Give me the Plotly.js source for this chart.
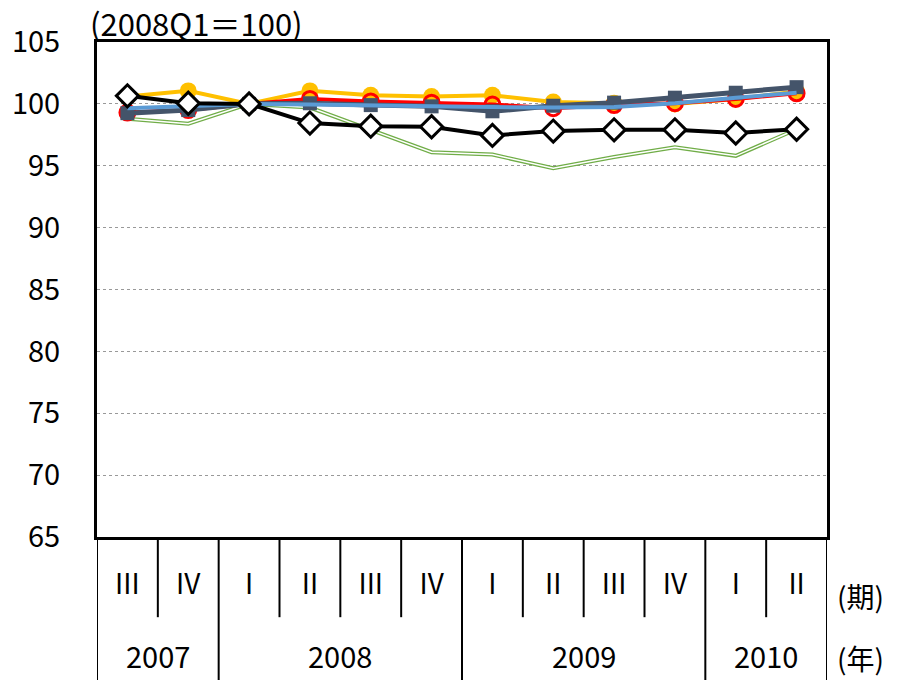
<!DOCTYPE html>
<html>
<head>
<meta charset="utf-8">
<script src="https://cdn.plot.ly/plotly-3.0.1.min.js"></script>
<style>body{margin:0;background:#fff}</style>
</head>
<body>
<div id="chart" style="width:901px;height:680px"></div>
<script>
var quarters = ['III', 'IV', 'I', 'II', 'III', 'IV', 'I', 'II', 'III', 'IV', 'I', 'II'];
var quarterIdx = [0, 1, 2, 3, 4, 5, 6, 7, 8, 9, 10, 11];
var yearLabels = ['2007', '2008', '2009', '2010'];
var yearSpans = [2, 4, 4, 2];

var serGreen = [98.8, 98.4, 100, 99.7, 97.9, 96.1, 95.9, 94.8, 95.7, 96.5, 95.8, 97.95];
var serOrange = [100.6, 101.05, 100, 101.05, 100.7, 100.6, 100.7, 100.15, 100.05, 100.0, 100.4, 101.0];
var serRed = [99.3, 99.5, 100, 100.4, 100.2, 100.1, 99.95, 99.65, 99.9, 100.05, 100.4, 100.85];
var serSlate = [99.25, 99.5, 100, 100.05, 99.9, 99.8, 99.4, 99.85, 100.1, 100.5, 100.9, 101.35];
var serBlue = [99.65, 99.85, 100, 99.95, 99.85, 99.8, 99.75, 99.7, 99.75, 100.05, 100.5, 100.9];
var serBlack = [100.65, 100.05, 100, 98.45, 98.2, 98.15, 97.45, 97.8, 97.9, 97.9, 97.65, 97.95];

var font = '"Noto Sans CJK JP", "Noto Sans", sans-serif';

var greenOuter = {
  x: quarterIdx, y: serGreen, type: 'scatter', mode: 'lines',
  line: {color: '#70AD47', width: 4}, hoverinfo: 'skip'
};
var greenInner = {
  x: quarterIdx, y: serGreen, type: 'scatter', mode: 'lines',
  line: {color: '#ffffff', width: 1.5}, hoverinfo: 'skip'
};
var orange = {
  x: quarterIdx, y: serOrange, type: 'scatter', mode: 'lines+markers',
  line: {color: '#FFC000', width: 4},
  marker: {symbol: 'circle', size: 17, color: '#FFC000'}
};
var red = {
  x: quarterIdx, y: serRed, type: 'scatter', mode: 'lines+markers',
  line: {color: '#FF0000', width: 4},
  marker: {symbol: 'circle-open', size: 15, color: '#FF0000', line: {width: 3, color: '#FF0000'}}
};
var slate = {
  x: quarterIdx, y: serSlate, type: 'scatter', mode: 'lines+markers',
  line: {color: '#44546A', width: 5},
  marker: {symbol: 'square', size: 14, color: '#44546A'}
};
var blue = {
  x: quarterIdx, y: serBlue, type: 'scatter', mode: 'lines',
  line: {color: '#5B9BD5', width: 4}
};
var black = {
  x: quarterIdx, y: serBlack, type: 'scatter', mode: 'lines+markers',
  line: {color: '#000000', width: 4},
  marker: {symbol: 'diamond', size: 17, color: '#ffffff', line: {width: 3, color: '#000000'}}
};

var data = [greenOuter, greenInner, orange, red, slate, blue, black];

// separators below the axis
var shapes = [];
var yearEdges = [-0.5];
yearSpans.forEach(function (s) { yearEdges.push(yearEdges[yearEdges.length - 1] + s); });
for (var i = 0; i <= quarters.length; i++) {
  var edge = i - 0.5;
  var isYear = yearEdges.indexOf(edge) >= 0;
  shapes.push({
    type: 'line', xref: 'x', yref: 'paper', x0: edge, x1: edge,
    y0: 0, y1: isYear ? -0.32 : -0.162,
    line: {color: '#000', width: 2}
  });
}

var annotations = [];
for (var j = 0; j < yearLabels.length; j++) {
  annotations.push({
    x: (yearEdges[j] + yearEdges[j + 1]) / 2, y: -0.238, xref: 'x', yref: 'paper',
    text: yearLabels[j], showarrow: false, yanchor: 'middle',
    font: {family: font, size: 29, color: '#000'}
  });
}
annotations.push({
  x: 0, y: 1.04, xref: 'paper', yref: 'paper', xanchor: 'left', yanchor: 'middle',
  text: '(2008Q1＝100)', showarrow: false, xshift: -9,
  font: {family: font, size: 31, color: '#000'}
});
annotations.push({
  x: 1, y: -0.12, xref: 'paper', yref: 'paper', xanchor: 'left', yanchor: 'middle',
  text: '(期)', showarrow: false, xshift: 8,
  font: {family: font, size: 28, color: '#000'}
});
annotations.push({
  x: 1, y: -0.244, xref: 'paper', yref: 'paper', xanchor: 'left', yanchor: 'middle',
  text: '(年)', showarrow: false, xshift: 8,
  font: {family: font, size: 28, color: '#000'}
});

var layout = {
  width: 901,
  height: 680,
  showlegend: false,
  paper_bgcolor: '#fff',
  plot_bgcolor: '#fff',
  font: {family: font, size: 28, color: '#000'},
  margin: {l: 97, r: 74, t: 42, b: 143, pad: 0},
  xaxis: {
    range: [-0.5, 11.5],
    tickvals: quarterIdx,
    ticktext: quarters,
    ticks: '',
    showgrid: false,
    zeroline: false,
    showline: true,
    mirror: true,
    linecolor: '#000',
    linewidth: 3,
    ticklabelstandoff: 20,
    tickfont: {family: font, size: 28}
  },
  yaxis: {
    range: [65, 105],
    dtick: 5,
    tick0: 65,
    ticks: '',
    showgrid: true,
    gridcolor: '#999',
    griddash: 'dot',
    gridwidth: 1,
    zeroline: false,
    showline: true,
    mirror: true,
    linecolor: '#000',
    linewidth: 3,
    ticklabelstandoff: 28,
    tickfont: {family: font, size: 29}
  },
  shapes: shapes,
  annotations: annotations
};

Plotly.newPlot('chart', data, layout, {displayModeBar: false});
</script>
</body>
</html>
